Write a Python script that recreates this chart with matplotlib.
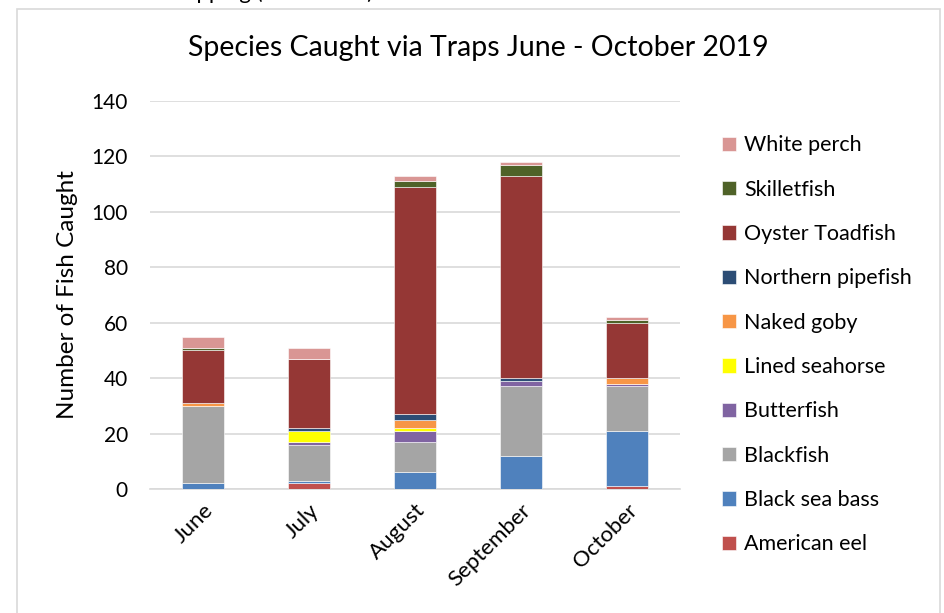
import numpy as np
import matplotlib.pyplot as plt
from matplotlib.patches import Rectangle

plt.rcParams['font.family'] = ['Lato', 'DejaVu Sans']

months = ["June", "July", "August", "September", "October"]

# fish counts per month, bottom of the stack first
american_eel = [0, 2, 0, 0, 1]
black_sea_bass = [2, 1, 6, 12, 20]
blackfish = [28, 13, 11, 25, 16]
butterfish = [0, 1, 4, 2, 1]
lined_seahorse = [0, 4, 1, 0, 0]
naked_goby = [1, 0, 3, 0, 2]
northern_pipefish = [0, 1, 2, 1, 0]
oyster_toadfish = [19, 25, 82, 73, 20]
skilletfish = [1, 0, 2, 4, 1]
white_perch = [4, 4, 2, 1, 1]

series = [
    ("American eel", american_eel, "#C0504D"),
    ("Black sea bass", black_sea_bass, "#4F81BD"),
    ("Blackfish", blackfish, "#A5A5A5"),
    ("Butterfish", butterfish, "#8064A2"),
    ("Lined seahorse", lined_seahorse, "#FFFF00"),
    ("Naked goby", naked_goby, "#F79646"),
    ("Northern pipefish", northern_pipefish, "#2C4D75"),
    ("Oyster Toadfish", oyster_toadfish, "#953735"),
    ("Skilletfish", skilletfish, "#4F6228"),
    ("White perch", white_perch, "#D99694"),
]

W, H = 945, 613
fig = plt.figure(figsize=(W / 100, H / 100), dpi=100)

# chart frame
fig.patches.append(Rectangle((17 / W, -0.1), (940 - 17) / W, 1.1 - 9 / H,
                             transform=fig.transFigure, fill=False,
                             edgecolor="#d9d9d9", linewidth=1.2))
# caption line above the chart, only its lower edge fits on the page
fig.text(118 / W, 1 + 1 / H, "Fish Trapping (2019 Data)", fontsize=16,
         va="baseline", ha="left", color="black")

ax = fig.add_axes([150 / W, 1 - 489 / H, 530 / W, 388 / H])
x = np.arange(len(months))
bottom = np.zeros(len(months))
handles = []
for name, vals, col in series:
    b = ax.bar(x, vals, width=0.4, bottom=bottom, color=col, label=name,
               edgecolor="white", linewidth=0.4, zorder=3)
    handles.append(b)
    bottom += np.array(vals)

ax.set_xlim(-0.5, len(months) - 0.5)
ax.set_ylim(0, 140)
ax.set_yticks(range(0, 141, 20))
ax.yaxis.grid(True, color="#d9d9d9", linewidth=1.2, zorder=0)
ax.set_axisbelow(True)
for s in ["top", "right", "left"]:
    ax.spines[s].set_visible(False)
ax.spines["bottom"].set_color("#d9d9d9")
ax.spines["bottom"].set_linewidth(1.2)
ax.tick_params(axis="y", length=0, labelsize=15, pad=16)
ax.set_xticks(x)
ax.set_xticklabels(months, rotation=45, ha="right", rotation_mode="anchor")
ax.tick_params(axis="x", length=0, labelsize=16, pad=8)
ax.set_ylabel("Number of Fish Caught", fontsize=17.5, labelpad=10)

fig.text(478 / W, 1 - 48 / H, "Species Caught via Traps June - October 2019",
         fontsize=20.5, ha="center", va="center")

fig.legend(handles[::-1], [s[0] for s in series][::-1],
           loc="upper left", bbox_to_anchor=(703 / W, 1 - 116 / H),
           frameon=False, fontsize=15.5, handlelength=0.65, handleheight=0.65,
           handletextpad=0.35, labelspacing=1.13)

fig.savefig("out.png", dpi=100)
